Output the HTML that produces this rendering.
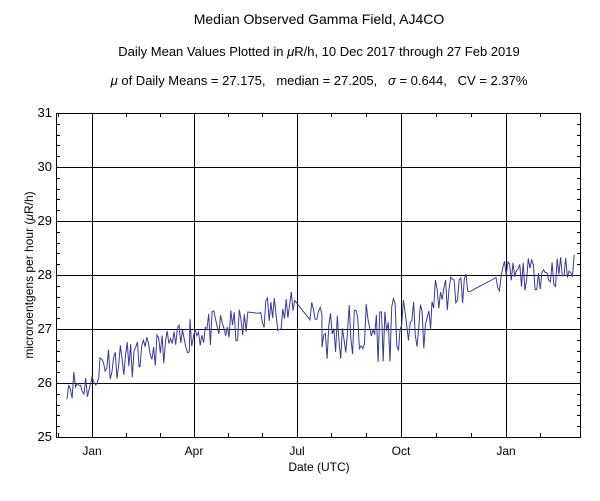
<!DOCTYPE html>
<html><head><meta charset="utf-8"><style>
body{margin:0;background:#fff;}
svg text{font-family:"Liberation Sans",Arial,sans-serif;fill:#000;white-space:pre;}
</style></head><body>
<svg id="s" width="600" height="496" xmlns="http://www.w3.org/2000/svg">
<rect width="600" height="496" fill="#fff"/>
<text x="319" y="24" font-size="14" text-anchor="middle">Median Observed Gamma Field, AJ4CO</text>
<text x="319" y="56" font-size="13" text-anchor="middle">Daily Mean Values Plotted in <tspan font-style="italic">μ</tspan>R/h, 10 Dec 2017 through 27 Feb 2019</text>
<text x="319" y="85" font-size="13" text-anchor="middle"><tspan font-style="italic">μ</tspan> of Daily Means = 27.175,&#160;&#160; median = 27.205,&#160;&#160; <tspan font-style="italic">σ</tspan> = 0.644,&#160;&#160; CV = 2.37%</text>
<g id="grid" stroke="#000" stroke-width="1" shape-rendering="crispEdges"></g>
<g font-size="13" text-anchor="end">
<text x="52" y="117">31</text><text x="52" y="171">30</text><text x="52" y="225">29</text>
<text x="52" y="279">28</text><text x="52" y="333">27</text><text x="52" y="387">26</text><text x="52" y="441">25</text>
</g>
<g font-size="12" text-anchor="middle">
<text x="92" y="455">Jan</text><text x="194" y="455">Apr</text><text x="297" y="455">Jul</text>
<text x="401" y="455">Oct</text><text x="506" y="455">Jan</text>
</g>
<text x="319" y="471" font-size="12" text-anchor="middle">Date (UTC)</text>
<text transform="translate(33,275) rotate(-90)" font-size="12" text-anchor="middle">microroentgens per hour (<tspan font-style="italic">μ</tspan>R/h)</text>
<polyline id="d" fill="none" stroke="#3a3a9e" stroke-width="1" points=""/>
<rect x="56.5" y="113.5" width="524" height="324" fill="none" stroke="#000"/>
</svg>
<script>
var g=document.getElementById('grid'),h='';
[167,221,275,329,383].forEach(function(y){h+='<line x1="56" x2="581" y1="'+(y+.5)+'" y2="'+(y+.5)+'"/>';});
[92,194,297,401,506].forEach(function(x){h+='<line y1="113" y2="437" x1="'+(x+.5)+'" x2="'+(x+.5)+'"/>';});
[58,126,160,228,262,331,366,436,471,540].forEach(function(x){h+='<line y1="113" y2="117" x1="'+(x+.5)+'" x2="'+(x+.5)+'"/><line y1="433" y2="437" x1="'+(x+.5)+'" x2="'+(x+.5)+'"/>';});
for(var v=25.2;v<31;v+=0.2){var y=Math.round(437-(v-25)*54);h+='<line x1="56" x2="60" y1="'+(y+.5)+'" y2="'+(y+.5)+'"/><line x1="577" x2="581" y1="'+(y+.5)+'" y2="'+(y+.5)+'"/>';}
g.innerHTML=h;
var seed=11;function r(){seed=(seed*16807)%2147483647;return seed/2147483647;}
var segs=[[67,92,26.0,25.95,0.3],[92,100,26.05,26.05,0.1],[100,140,26.4,26.45,0.35],[140,190,26.5,26.85,0.3],
[190,248,26.95,27.05,0.35],[259,296,27.3,27.35,0.35],[310,322,27.4,27.3,0.35],[322,400,26.9,27.0,0.6],
[400,432,27.1,27.0,0.45],[432,470,27.6,27.8,0.35],[496,575,27.95,28.1,0.3]];
var pts=[];
segs.forEach(function(s){for(var x=s[0];x<=s[1];x+=1.7){var t=(x-s[0])/(s[1]-s[0]);var m=s[2]+(s[3]-s[2])*t;var v=m+(r()*2-1)*s[4];pts.push(x.toFixed(1)+','+(437-(v-25)*54).toFixed(1));}});
document.getElementById('d').setAttribute('points',pts.join(' '));
</script>
</body></html>
